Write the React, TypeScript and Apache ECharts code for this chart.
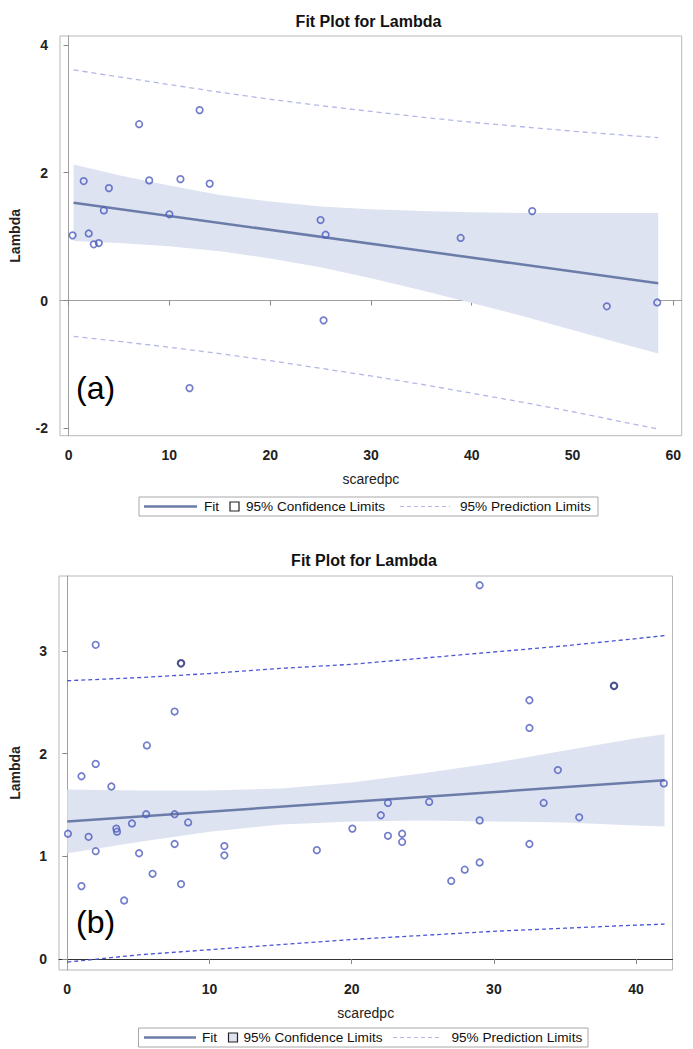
import React, { useEffect, useRef } from "react";
import * as echarts from "echarts";

// ---------- Panel (a) ----------
const topX = [0.4, 1.5, 2.0, 2.5, 3.0, 3.5, 4.0, 7.0, 8.0, 10.0, 11.1, 13.0, 14.0, 25.0, 25.5, 38.9, 46.0, 12.0, 25.3, 53.4, 58.4];
const topY = [1.02, 1.87, 1.05, 0.88, 0.9, 1.41, 1.76, 2.76, 1.88, 1.35, 1.9, 2.98, 1.83, 1.26, 1.03, 0.98, 1.4, -1.37, -0.31, -0.09, -0.03];
const topFitX = [0.5, 58.5];
const topFitY = [1.53, 0.27];
const topBandX = [0.5, 5, 10, 15, 20, 25, 30, 35, 40, 45, 50, 55, 58.5];
const topUpperCL = [2.13, 1.96, 1.8, 1.65, 1.55, 1.47, 1.43, 1.4, 1.38, 1.37, 1.37, 1.37, 1.37];
const topLowerCL = [0.93, 0.9, 0.85, 0.77, 0.66, 0.52, 0.35, 0.16, -0.04, -0.24, -0.46, -0.68, -0.83];
const topUpperPL = [3.61, 3.5, 3.38, 3.26, 3.15, 3.05, 2.96, 2.87, 2.79, 2.72, 2.65, 2.59, 2.55];
const topLowerPL = [-0.56, -0.64, -0.73, -0.83, -0.94, -1.06, -1.18, -1.31, -1.45, -1.59, -1.74, -1.9, -2.01];
const topXTicks = [0, 10, 20, 30, 40, 50, 60];
const topYTicks = [-2, 0, 2, 4];

// ---------- Panel (b) ----------
const bottomX = [0.05, 1.0, 1.0, 1.5, 2.0, 2.0, 2.0, 3.1, 3.45, 3.5, 4.0, 4.55, 5.05, 5.55, 5.6, 6.0, 7.55, 7.55, 7.55, 8.0, 8.5, 11.05, 11.05, 17.55, 20.05, 22.05, 22.55, 22.55, 23.55, 23.55, 25.45, 27.0, 27.95, 29.0, 29.0, 29.0, 32.5, 32.5, 32.5, 33.5, 34.5, 36.0, 41.95];
const bottomY = [1.22, 1.78, 0.71, 1.19, 3.06, 1.9, 1.05, 1.68, 1.27, 1.24, 0.57, 1.32, 1.03, 1.41, 2.08, 0.83, 2.41, 1.41, 1.12, 0.73, 1.33, 1.1, 1.01, 1.06, 1.27, 1.4, 1.52, 1.2, 1.22, 1.14, 1.53, 0.76, 0.87, 3.64, 1.35, 0.94, 2.52, 2.25, 1.12, 1.52, 1.84, 1.38, 1.71];
const bottomDupX = [8.0, 38.45];
const bottomDupY = [2.88, 2.66];
const bottomFitX = [0, 42];
const bottomFitY = [1.34, 1.74];
const bottomBandX = [0, 5, 10, 15, 20, 25, 30, 35, 40, 42];
const bottomUpperCL = [1.65, 1.64, 1.64, 1.66, 1.72, 1.81, 1.91, 2.03, 2.15, 2.19];
const bottomLowerCL = [1.03, 1.14, 1.24, 1.31, 1.34, 1.35, 1.34, 1.33, 1.3, 1.29];
const bottomUpperPL = [2.71, 2.74, 2.78, 2.83, 2.87, 2.93, 2.99, 3.05, 3.12, 3.15];
const bottomLowerPL = [-0.03, 0.04, 0.09, 0.14, 0.19, 0.23, 0.27, 0.3, 0.33, 0.34];
const bottomXTicks = [0, 10, 20, 30, 40];
const bottomYTicks = [0, 1, 2, 3];

const legendLabels = ["Fit", "95% Confidence Limits", "95% Prediction Limits"];

const FONT = "'Liberation Sans', Arial, sans-serif";
const BAND = "#DDE3F1";
const FIT = "#6C7CA8";
const MARK = "#4E5BBE";

const pairs = (xs: number[], ys: number[]) => xs.map((x, i) => [x, ys[i]]);

function bandSeries(idx: number, xs: number[], lo: number[], hi: number[]) {
  return {
    type: "custom",
    xAxisIndex: idx,
    yAxisIndex: idx,
    silent: true,
    z: 1,
    data: xs.map((x, i) => [x, lo[i], hi[i]]),
    encode: { x: 0, y: [1, 2] },
    renderItem: (params: any, api: any) => {
      if (params.dataIndex !== 0) return null;
      const up = xs.map((x, i) => api.coord([x, hi[i]]));
      const dn = xs.map((x, i) => api.coord([x, lo[i]])).reverse();
      return { type: "polygon", shape: { points: up.concat(dn) }, style: { fill: BAND } };
    },
  };
}

function lineSeries(idx: number, data: number[][], color: string, width: number, dash?: number[]) {
  return {
    type: "line",
    xAxisIndex: idx,
    yAxisIndex: idx,
    data,
    symbol: "none",
    silent: true,
    z: 2,
    lineStyle: { color, width, type: dash ? dash : "solid" },
  };
}

function scatterSeries(idx: number, data: number[][], color: string, bw: number) {
  return {
    type: "scatter",
    xAxisIndex: idx,
    yAxisIndex: idx,
    data,
    symbol: "circle",
    symbolSize: 6.5,
    z: 3,
    itemStyle: { color: "rgba(255,255,255,0)", borderColor: color, borderWidth: bw },
  };
}

function xAxis(idx: number, min: number, max: number, ticks: number[], lineColor: string) {
  return {
    type: "value",
    gridIndex: idx,
    min,
    max,
    name: "scaredpc",
    nameLocation: "middle",
    nameGap: 36,
    nameTextStyle: { fontFamily: FONT, fontSize: 14, color: "#222" },
    axisLine: { show: true, lineStyle: { color: lineColor, width: 1 } },
    axisTick: { show: true, customValues: ticks, length: 5, lineStyle: { color: "#888" } },
    axisLabel: { customValues: ticks, fontFamily: FONT, fontSize: 14, fontWeight: "bold", color: "#222", margin: 12 },
    splitLine: { show: false },
  };
}

function yAxis(idx: number, min: number, max: number, ticks: number[], gap: number) {
  return {
    type: "value",
    gridIndex: idx,
    min,
    max,
    name: "Lambda",
    nameLocation: "middle",
    nameGap: gap,
    nameTextStyle: { fontFamily: FONT, fontSize: 14, fontWeight: "bold", color: "#222" },
    axisLine: { show: true, lineStyle: { color: "#A0A0A0", width: 1 } },
    axisTick: { show: true, customValues: ticks, length: 5, lineStyle: { color: "#888" } },
    axisLabel: { customValues: ticks, fontFamily: FONT, fontSize: 14, fontWeight: "bold", color: "#222", margin: 12 },
    splitLine: { show: false },
  };
}

// pos: [boxLeft, boxRight, lineL, lineR, fitText, squareL, clText, dashL, dashR, plText]
function legend(pos: number[], yc: number, squareFill: string, dashColor: string) {
  const [x0, x1, l0, l1, tFit, sq, tCL, d0, d1, tPL] = pos;
  const t = (text: string, x: number) => ({
    type: "text",
    x,
    y: yc,
    style: { text, fontFamily: FONT, fontSize: 13.6, fill: "#111", textVerticalAlign: "middle", verticalAlign: "middle" },
  });
  return [
    { type: "rect", shape: { x: x0, y: yc - 9.5, width: x1 - x0, height: 19 }, style: { fill: "#fff", stroke: "#A8A8A8", lineWidth: 1 } },
    { type: "line", shape: { x1: l0, y1: yc, x2: l1, y2: yc }, style: { stroke: FIT, lineWidth: 2.5 } },
    t(legendLabels[0], tFit),
    { type: "rect", shape: { x: sq, y: yc - 4.5, width: 9, height: 9 }, style: { fill: squareFill, stroke: "#222", lineWidth: 1.2 } },
    t(legendLabels[1], tCL),
    { type: "line", shape: { x1: d0, y1: yc, x2: d1, y2: yc }, style: { stroke: dashColor, lineWidth: 1.2, lineDash: [4, 3] } },
    t(legendLabels[2], tPL),
  ];
}

function titleText(text: string, x: number, y: number) {
  return {
    type: "text",
    x,
    y,
    style: { text, fontFamily: FONT, fontSize: 16, fontWeight: "bold", fill: "#111", textAlign: "center", align: "center", textVerticalAlign: "middle", verticalAlign: "middle" },
  };
}

function panelTag(text: string, x: number, y: number) {
  return {
    type: "text",
    x,
    y,
    style: { text, fontFamily: FONT, fontSize: 32, fill: "#000", textVerticalAlign: "middle", verticalAlign: "middle" },
  };
}

export default function App() {
  const ref = useRef<HTMLDivElement>(null);
  useEffect(() => {
    document.body.style.margin = "0";
    if (!ref.current) return;
    const chart = echarts.init(ref.current, null, { renderer: "svg" });
    const option: any = {
      animation: false,
      backgroundColor: "#fff",
      grid: [
        { left: 55.7, top: 36, width: 626, height: 399.7, show: true, borderColor: "#B8B8B8", borderWidth: 1, backgroundColor: "transparent" },
        { left: 54.7, top: 576, width: 617.8, height: 394, show: true, borderColor: "#B8B8B8", borderWidth: 1, backgroundColor: "transparent" },
      ],
      xAxis: [xAxis(0, -0.85, 60.83, topXTicks, "#A0A0A0"), xAxis(1, -0.58, 42.56, bottomXTicks, "#333")],
      yAxis: [yAxis(0, -2.115, 4.14, topYTicks, 38), yAxis(1, -0.107, 3.73, bottomYTicks, 37)],
      series: [
        bandSeries(0, topBandX, topLowerCL, topUpperCL),
        lineSeries(0, pairs(topFitX, topFitY), FIT, 2.5),
        lineSeries(0, pairs(topBandX, topUpperPL), "#B3B7E8", 1.3, [5, 4]),
        lineSeries(0, pairs(topBandX, topLowerPL), "#B3B7E8", 1.3, [5, 4]),
        scatterSeries(0, pairs(topX, topY), MARK, 1.7),
        bandSeries(1, bottomBandX, bottomLowerCL, bottomUpperCL),
        lineSeries(1, pairs(bottomFitX, bottomFitY), FIT, 2.5),
        lineSeries(1, pairs(bottomBandX, bottomUpperPL), "#4A56D4", 1.3, [4, 3]),
        lineSeries(1, pairs(bottomBandX, bottomLowerPL), "#4A56D4", 1.3, [4, 3]),
        scatterSeries(1, pairs(bottomX, bottomY), MARK, 1.7),
        scatterSeries(1, pairs(bottomDupX, bottomDupY), "#1F2670", 2.1),
      ],
      graphic: [
        titleText("Fit Plot for Lambda", 368.5, 21),
        titleText("Fit Plot for Lambda", 364, 560),
        panelTag("(a)", 76, 388),
        panelTag("(b)", 76, 922),
        ...legend([139, 598, 144, 197, 204, 230, 246, 400, 450, 460], 506.5, "#fff", "#B3B7E8"),
        ...legend([138.5, 588, 144, 196, 202, 228.5, 243.5, 393, 441, 451.5], 1037.5, BAND, "#B3B7E8"),
      ],
    };
    chart.setOption(option);
    return () => chart.dispose();
  }, []);
  return <div ref={ref} style={{ position: "absolute", left: 0, top: 0, width: 693, height: 1049 }} />;
}
